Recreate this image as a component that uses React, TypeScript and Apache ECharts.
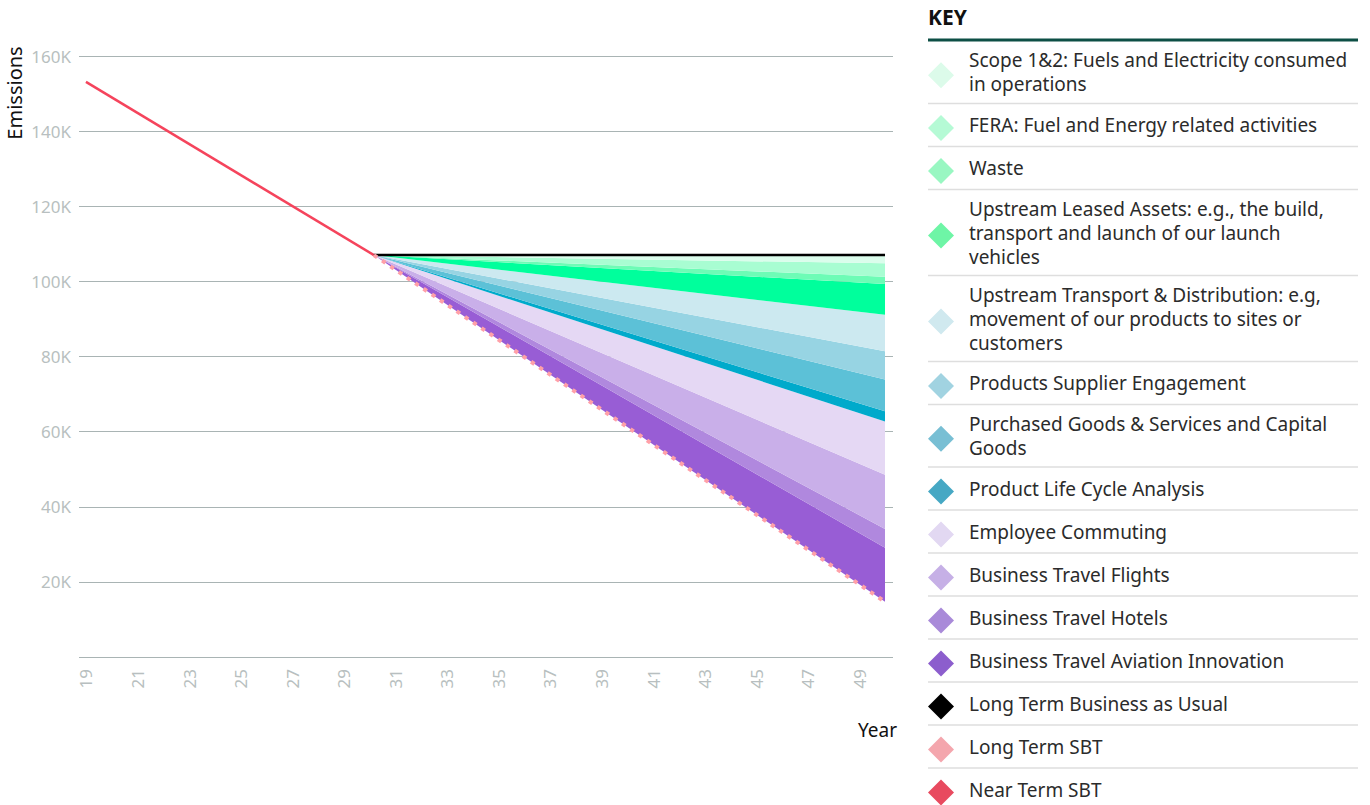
import React, { useEffect, useRef } from 'react';
import * as echarts from 'echarts';

// ---------- data ----------
const xTickYears = [2019, 2021, 2023, 2025, 2027, 2029, 2031, 2033, 2035, 2037, 2039, 2041, 2043, 2045, 2047, 2049];

const nearTermYears = [2019, 2030.17];
const nearTermValues = [153100, 107000];

const bauYears = [2030.17, 2050];
const bauValues = [107000, 107000];

const longTermYears = [2030.17, 2050];
const longTermValues = [107000, 14700];

// key order (top to bottom); '\n' marks where the key text wraps
const keyLabels = [
  'Scope 1&2: Fuels and Electricity consumed\nin operations',
  'FERA: Fuel and Energy related activities',
  'Waste',
  'Upstream Leased Assets: e.g., the build,\ntransport and launch of our launch\nvehicles',
  'Upstream Transport & Distribution: e.g,\nmovement of our products to sites or\ncustomers',
  'Products Supplier Engagement',
  'Purchased Goods & Services and Capital\nGoods',
  'Product Life Cycle Analysis',
  'Employee Commuting',
  'Business Travel Flights',
  'Business Travel Hotels',
  'Business Travel Aviation Innovation',
  'Long Term Business as Usual',
  'Long Term SBT',
  'Near Term SBT',
];

// reduction wedges (same order as the first 12 key rows), value at start and at 2050
const wedgeYears = [2030.17, 2050];
const wedgeStart = [0, 0, 0, 0, 0, 0, 0, 0, 0, 0, 0, 0];
const wedge2050 = [2200, 3600, 1900, 8200, 9700, 7500, 8500, 2700, 14200, 14400, 5000, 14400];

const wedgeColors = ['#dbfdec', '#a8fdd2', '#6dfcb6', '#00ff9c', '#cce9f0', '#97d4e3', '#5cc1d7', '#00aacb', '#e5d8f4', '#c9afe9', '#b088de', '#985dd5'];
const keyColors = ['#dcfbea', '#b5fad5', '#99f7c2', '#6ef5a6', '#d0e9ef', '#a1d3e1', '#78bfd4', '#46a8c4', '#e2d8f2', '#c6b0e6', '#a98ad9', '#8c5ecd', '#000000', '#f4a6ad', '#e84a5f'];

const seriesNames = keyLabels.map((s) => s.replace(/\n/g, ' '));

const FONT = '"Noto Sans", Roboto, sans-serif';

// rows are [value, year] so that the value column is the one stacked
const rows = (years: number[], values: number[]) => years.map((y, i) => [values[i], y]);
const ENC = { x: 1, y: 0 };

export default function App() {
  const ref = useRef<HTMLDivElement>(null);

  useEffect(() => {
    document.body.style.margin = '0';
    if (!ref.current) return;
    const chart = echarts.init(ref.current, null, { renderer: 'svg' });

    const series: any[] = [];
    series.push({
      name: seriesNames[14],
      type: 'line',
      encode: ENC,
      data: rows(nearTermYears, nearTermValues),
      symbol: 'none',
      lineStyle: { color: '#f5445c', width: 2.5 },
      z: 4,
    });
    // stack base: long term SBT
    series.push({
      name: seriesNames[13],
      type: 'line',
      stack: 'total',
      stackStrategy: 'all',
      encode: ENC,
      data: rows(longTermYears, longTermValues),
      symbol: 'none',
      lineStyle: { color: '#ffa0a8', width: 4, type: [4, 6] },
      z: 10,
    });
    for (let k = 11; k >= 0; k--) {
      series.push({
        name: seriesNames[k],
        type: 'line',
        stack: 'total',
        stackStrategy: 'all',
        encode: ENC,
        data: rows(wedgeYears, [wedgeStart[k], wedge2050[k]]),
        symbol: 'none',
        lineStyle: { width: 0, color: wedgeColors[k] },
        areaStyle: { color: wedgeColors[k], opacity: 1 },
        z: 2,
      });
    }
    series.push({
      name: seriesNames[12],
      type: 'line',
      encode: ENC,
      data: rows(bauYears, bauValues),
      symbol: 'none',
      lineStyle: { color: '#000000', width: 2.5 },
      z: 6,
    });

    // key (legend) drawn with graphic elements
    const graphics: any[] = [];
    graphics.push({
      type: 'text',
      left: 928,
      top: 6,
      style: { text: 'KEY', font: `bold 21px ${FONT}`, fill: '#111' },
    });
    graphics.push({
      type: 'line',
      shape: { x1: 928, y1: 40, x2: 1358, y2: 40 },
      style: { stroke: '#0d4f45', lineWidth: 3 },
    });
    const rowH = [0, 43, 62.5, 86];
    let top = 41;
    keyLabels.forEach((label, i) => {
      const lines = label.split('\n').length;
      const h = rowH[lines];
      const cy = top + h / 2;
      const dy = cy + 3;
      graphics.push({
        type: 'polygon',
        shape: { points: [[941, dy - 13], [954, dy], [941, dy + 13], [928, dy]] },
        style: { fill: keyColors[i] },
      });
      graphics.push({
        type: 'text',
        x: 969,
        y: cy,
        style: {
          text: label,
          font: `19px ${FONT}`,
          fill: '#2b2b2b',
          verticalAlign: 'middle',
          lineHeight: 24,
        },
      });
      top += h;
      if (i < keyLabels.length - 1) {
        graphics.push({
          type: 'line',
          shape: { x1: 928, y1: top, x2: 1358, y2: top },
          style: { stroke: '#dedede', lineWidth: 1.5 },
        });
      }
    });
    graphics.push({
      type: 'text',
      x: 14,
      y: 93,
      rotation: Math.PI / 2,
      style: { text: 'Emissions', font: `20px ${FONT}`, fill: '#111', align: 'center', verticalAlign: 'middle' },
    });
    graphics.push({
      type: 'text',
      x: 897,
      y: 730,
      style: { text: 'Year', font: `19px ${FONT}`, fill: '#111', align: 'right', verticalAlign: 'middle' },
    });

    chart.setOption({
      animation: false,
      grid: { left: 79, right: 477, top: 56, bottom: 148, containLabel: false },
      xAxis: {
        type: 'value',
        min: 2018.73,
        max: 2050.31,
        axisLine: { show: false },
        axisTick: { show: false },
        splitLine: { show: false },
        axisLabel: {
          customValues: xTickYears,
          rotate: 90,
          margin: 12,
          color: '#b8bfc0',
          fontSize: 17,
          fontFamily: FONT,
          formatter: (v: number) => String(Math.round(v)).slice(2),
        },
      },
      yAxis: {
        type: 'value',
        min: 0,
        max: 160000,
        interval: 20000,
        axisLine: { show: false },
        axisTick: { show: false },
        splitLine: { show: true, lineStyle: { color: '#a9b4b4', width: 1 } },
        axisLabel: {
          color: '#b8bfc0',
          fontSize: 17,
          fontFamily: FONT,
          margin: 8,
          formatter: (v: number) => (v === 0 ? '' : `${v / 1000}K`),
        },
      },
      series,
      graphic: graphics,
    });

    return () => chart.dispose();
  }, []);

  return <div ref={ref} style={{ width: 1370, height: 805 }} />;
}
